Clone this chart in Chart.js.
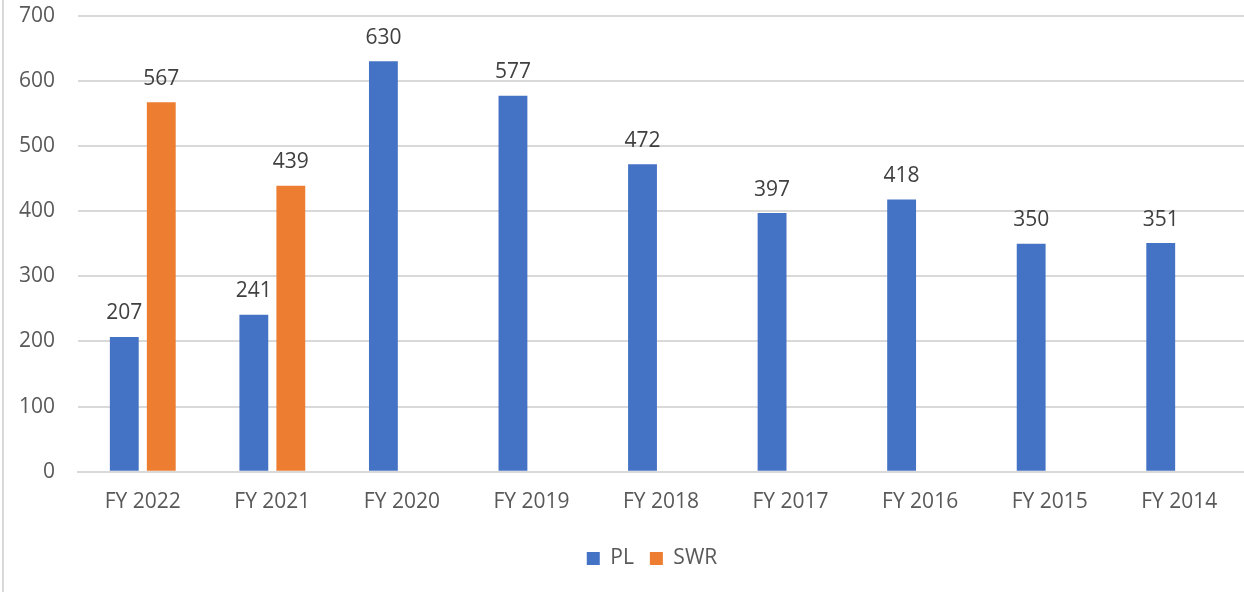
<!DOCTYPE html>
<html>
<head>
<meta charset="utf-8">
<script src="https://cdn.jsdelivr.net/npm/chart.js@4"></script>
<style>
  body { margin: 0; background: #fff; }
  #wrap { position: relative; width: 1244px; height: 592px; overflow: hidden; }
  #edge { position: absolute; left: 2px; top: 0; width: 2px; height: 592px; background: #d9d9d9; z-index: 1; }
  #bar_chart { position: absolute; left: 0; top: -20px; }
</style>
</head>
<body>
<div id="wrap">
  <div id="edge"></div>
  <canvas id="bar_chart" width="1244" height="612"></canvas>
</div>
<script>
// Chart data
var categories = ["FY 2022", "FY 2021", "FY 2020", "FY 2019", "FY 2018", "FY 2017", "FY 2016", "FY 2015", "FY 2014"];
var plValues = [207, 241, 630, 577, 472, 397, 418, 350, 351];
var swrValues = [567, 439, null, null, null, null, null, null, null];

var textColor = '#595959';
var fontFamily = "'Open Sans', 'Noto Sans', sans-serif";

// draws the value above each bar
var valueLabels = {
    id: 'valueLabels',
    afterLayout: function(chart) {
        // legend sits a bit right of the canvas centre in the original
        chart.legend.left += 30;
        chart.legend.right += 30;
    },
    afterDatasetsDraw: function(chart) {
        var ctx = chart.ctx;
        ctx.save();
        ctx.font = '21px ' + fontFamily;
        ctx.fillStyle = '#404040';
        ctx.textAlign = 'center';
        ctx.textBaseline = 'bottom';
        chart.data.datasets.forEach(function(ds, i) {
            chart.getDatasetMeta(i).data.forEach(function(bar, j) {
                var v = ds.data[j];
                if (v === null || v === undefined) return;
                ctx.fillText(v, bar.x, bar.y - 13);
            });
        });
        ctx.restore();
    }
};

var barData = {
    labels: categories,
    datasets: [
        {
            label: "PL",
            backgroundColor: '#4472C4',
            data: plValues
        },
        {
            label: "SWR",
            backgroundColor: '#ED7D31',
            data: swrValues
        }
    ]
};

var barOptions = {
    responsive: false,
    animation: false,
    layout: { padding: { top: 0, right: 0, left: 0, bottom: 13 } },
    datasets: {
        bar: { categoryPercentage: 0.571, barPercentage: 0.78 }
    },
    plugins: {
        tooltip: { enabled: false },
        legend: {
            position: 'bottom',
            labels: {
                color: textColor,
                font: { size: 21, family: fontFamily },
                boxWidth: 13,
                boxHeight: 13,
                padding: 16
            }
        }
    },
    scales: {
        x: {
            afterFit: function(s) { s.height -= 1; },
            grid: { display: false, drawTicks: false },
            border: { display: true, color: '#d9d9d9', width: 2 },
            ticks: { color: textColor, font: { size: 21, family: fontFamily }, padding: 18 }
        },
        y: {
            min: 0,
            max: 700,
            afterFit: function(s) { s.width = 78; },
            grid: { color: '#d9d9d9', lineWidth: 2, drawTicks: false },
            border: { display: false },
            ticks: { stepSize: 100, color: textColor, font: { size: 21, family: fontFamily }, padding: 23 }
        }
    }
};

var ctx = document.getElementById("bar_chart").getContext("2d");
new Chart(ctx, {type: 'bar', data: barData, options: barOptions, plugins: [valueLabels]});
</script>
</body>
</html>
